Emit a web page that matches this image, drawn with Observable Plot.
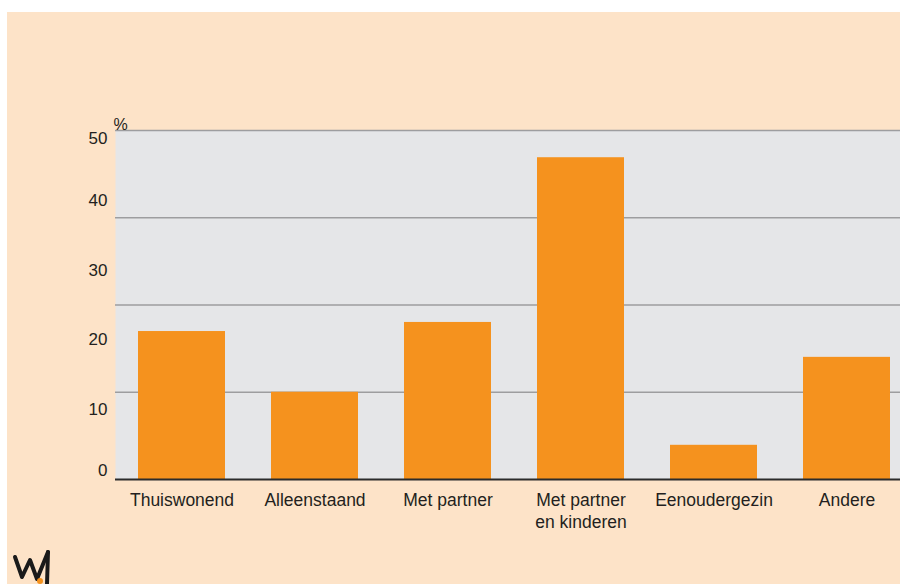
<!DOCTYPE html>
<html>
<head>
<meta charset="utf-8">
<script src="https://cdn.jsdelivr.net/npm/d3@7"></script>
<script src="https://cdn.jsdelivr.net/npm/@observablehq/plot@0.6"></script>
<style>
  html, body { margin: 0; padding: 0; background: #ffffff; }
  #wrap { position: absolute; left: 7px; top: 12px; width: 893px; height: 572px; background: #fde3c8; overflow: hidden; font-family: "Liberation Sans", Arial, sans-serif; }
  #chart { position: absolute; left: 0; top: 0; }
  #logo { position: absolute; left: 0; top: 530px; }
</style>
</head>
<body>
<div id="wrap">
  <div id="chart"></div>
  <svg id="logo" width="60" height="42" viewBox="0 0 60 42">
    <polyline points="8,15 15,35 23,18 30,37 41,10" fill="none" stroke="#1a1a1a" stroke-width="4" stroke-linejoin="round" stroke-linecap="round"/>
    <line x1="41" y1="10" x2="40" y2="42" stroke="#1a1a1a" stroke-width="4" stroke-linecap="round"/>
    <circle cx="33" cy="39" r="3" fill="#f5921e"/>
  </svg>
</div>
<script>
const categories = ["Thuiswonend", "Alleenstaand", "Met partner", "Met partner\nen kinderen", "Eenoudergezin", "Andere"];
const values = [21.2, 12.5, 22.5, 46.1, 4.9, 17.5];
const yTickLabels = [10, 20, 30, 40];
const yEdgeLow = [0];
const yEdgeHigh = [50];
const gridValues = [12.5, 25, 37.5, 50];

const data = categories.map((c, i) => ({category: c, value: values[i]}));
const font = "'Liberation Sans', Arial, sans-serif";

const chart = Plot.plot({
  width: 893,
  height: 530,
  marginLeft: 108,
  marginRight: 0,
  marginTop: 118,
  marginBottom: 63,
  style: {background: "transparent", fontFamily: font, color: "#231f20"},
  x: {domain: categories, range: [108, 906], paddingInner: 0.346, paddingOuter: 0.173, label: null},
  y: {domain: [0, 50], label: null},
  marks: [
    Plot.frame({fill: "#e5e6e8", stroke: null}),
    Plot.ruleY(gridValues, {stroke: "#9d9d9f", strokeWidth: 1.6}),
    Plot.barY(data, {x: "category", y: "value", fill: "#f5921e"}),
    Plot.ruleY([0], {stroke: "#2b2b2b", strokeWidth: 1.8}),
    Plot.axisX({tickSize: 0, tickPadding: 10, fontSize: 17.5, lineHeight: 1.3, fill: "#231f20"}),
    Plot.axisY({ticks: yTickLabels, tickSize: 0, tickPadding: 8, fontSize: 17, fill: "#231f20", label: null}),
    Plot.text(yEdgeLow, {y: d => d, text: d => String(d), frameAnchor: "left", dx: -8, dy: -9, textAnchor: "end", fontSize: 17, fill: "#231f20"}),
    Plot.text(yEdgeHigh, {y: d => d, text: d => String(d), frameAnchor: "left", dx: -8, dy: 8, textAnchor: "end", fontSize: 17, fill: "#231f20"}),
    Plot.text(["%"], {frameAnchor: "top-left", dx: -2, dy: -12, textAnchor: "start", fontSize: 16, fill: "#231f20"})
  ]
});
document.getElementById("chart").appendChild(chart);
</script>
</body>
</html>
